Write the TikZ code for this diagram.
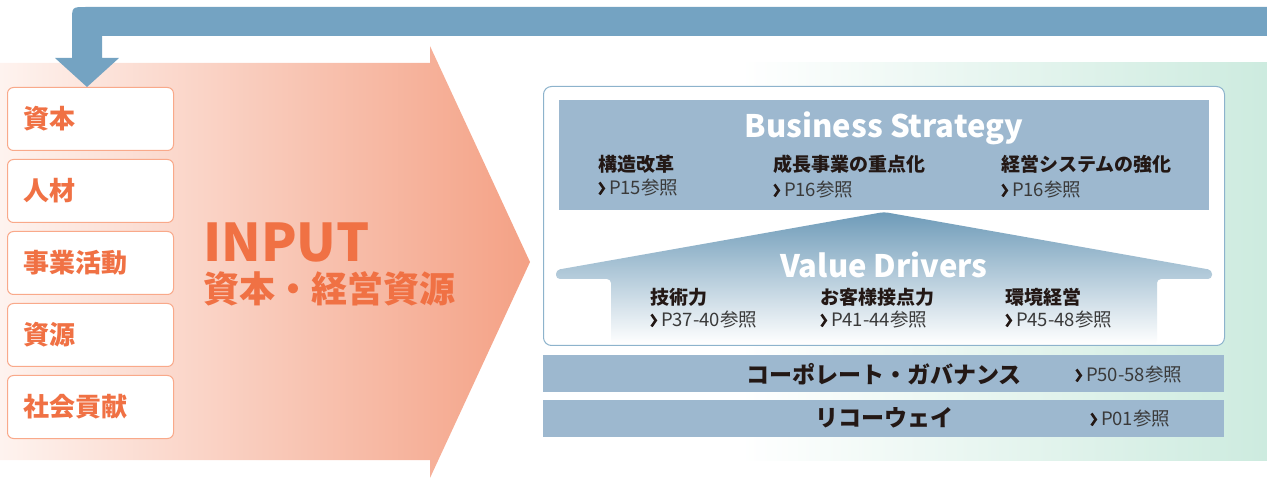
\documentclass[tikz,border=0pt]{standalone}
\usepackage{fontspec}
\setmainfont{Noto Sans CJK JP}
\definecolor{fb}{HTML}{74A3C2}
\definecolor{band}{HTML}{9DB8CF}
\definecolor{org}{HTML}{F07144}
\definecolor{orgline}{HTML}{F9A98A}
\definecolor{ink}{HTML}{231815}
\definecolor{refc}{HTML}{3A3A3A}
\definecolor{grn}{HTML}{CDEBDF}
\definecolor{boxline}{HTML}{8DB3CC}
\definecolor{orgL}{HTML}{FEF3EF}
\definecolor{orgR}{HTML}{F4A185}
\newcommand\chevmark{\tikz[baseline=-0.5pt,x=1pt,y=1pt]\draw[line width=2.6pt,ink] (0,0)--(4.2,6)--(0,12);\hspace{4pt}}
\tikzset{
  inbox/.style={draw=orgline, line width=1pt, fill=white, rounded corners=6pt,
    minimum width=166pt, minimum height=63pt, text width=134pt, align=left,
    inner xsep=16pt, anchor=north west, text=org,
    font=\bfseries\fontsize{26}{26}\selectfont},
  head/.style={font=\bfseries\fontsize{19}{19}\selectfont, text=ink, anchor=west, inner sep=0pt},
  pref/.style={font=\fontsize{18.5}{18.5}\selectfont, text=refc, anchor=west, inner sep=0pt},
  title/.style={font=\bfseries\fontsize{31}{31}\selectfont, text=white, inner sep=0pt},
  bandbox/.style={fill=band, minimum width=681pt, minimum height=37pt, anchor=north west, inner sep=0pt},
  bandtext/.style={font=\bfseries\fontsize{23}{23}\selectfont, text=ink, inner sep=0pt}
}
\begin{document}
\begin{tikzpicture}[x=1pt,y=-1pt]
\useasboundingbox (0,0) rectangle (1267,478);
% green background
\shade[left color=white, right color=grn] (740,63) rectangle (1267,460);
% big orange arrow
\shade[left color=orgL, right color=orgR] (0,63) -- (430,63) -- (430,46) -- (530,262) -- (430,478) -- (430,460) -- (0,460) -- cycle;
% feedback arrow
\fill[fb] (1267,36) -- (102,36) -- (102,58) -- (119,58) -- (87,87) -- (55,58) -- (72,58) -- (72,21) .. controls (72,7) .. (86,7) -- (1267,7) -- cycle;
% input boxes
\node[inbox] (b1) at (7,87) {資本};
\node[inbox] (b2) at (7,159) {人材};
\node[inbox] (b3) at (7,231) {事業活動};
\node[inbox] (b4) at (7,303) {資源};
\node[inbox] (b5) at (7,375) {社会貢献};
% INPUT label
\node[anchor=west, inner sep=0pt, text=org, font=\bfseries\fontsize{52}{52}\selectfont] (inp) at (203,242) {INPUT};
\node[anchor=west, inner sep=0pt, text=org, font=\bfseries\fontsize{36}{36}\selectfont] (inp2) at (203,289) {資本・経営資源};
% white frame
\node[draw=boxline, line width=1pt, fill=white, rounded corners=8pt, minimum width=681pt, minimum height=259pt, anchor=north west, inner sep=0pt] (frame) at (543,86) {};
% business strategy band
\node[fill=band, minimum width=650pt, minimum height=110pt, anchor=north west, inner sep=0pt] (bs) at (559,100) {};
\node[title] (bst) at (884,128) {Business Strategy};
\node[head] (s1) at (598,164) {構造改革};
\node[pref] (s1r) at (598,188) {\chevmark P15参照};
\node[head] (s2) at (773,164) {成長事業の重点化};
\node[pref] (s2r) at (773,190) {\chevmark P16参照};
\node[head] (s3) at (1001,164) {経営システムの強化};
\node[pref] (s3r) at (1001,190) {\chevmark P16参照};
% value drivers house
\shade[top color=fb!95!black, middle color=fb!88, bottom color=white, rounded corners=4pt]
  (884,212) -- (1212,270) -- (1212,279) -- (1157,279) -- (1157,344) -- (611,344) -- (611,279) -- (556,279) -- (556,270) -- cycle;
\node[title] (vdt) at (884,265) {Value Drivers};
\node[head] (v1) at (650,297) {技術力};
\node[pref] (v1r) at (650,320) {\chevmark P37-40参照};
\node[head] (v2) at (820,297) {お客様接点力};
\node[pref] (v2r) at (820,320) {\chevmark P41-44参照};
\node[head] (v3) at (1005,297) {環境経営};
\node[pref] (v3r) at (1005,320) {\chevmark P45-48参照};
% bottom bands
\node[bandbox] (cg) at (543,355) {};
\node[bandtext] (cgt) at (884,374) {コーポレート・ガバナンス};
\node[pref] (cgr) at (1075,375) {\chevmark P50-58参照};
\node[bandbox] (rw) at (543,400) {};
\node[bandtext] (rwt) at (884,418) {リコーウェイ};
\node[pref] (rwr) at (1090,419) {\chevmark P01参照};
\end{tikzpicture}
\end{document}
